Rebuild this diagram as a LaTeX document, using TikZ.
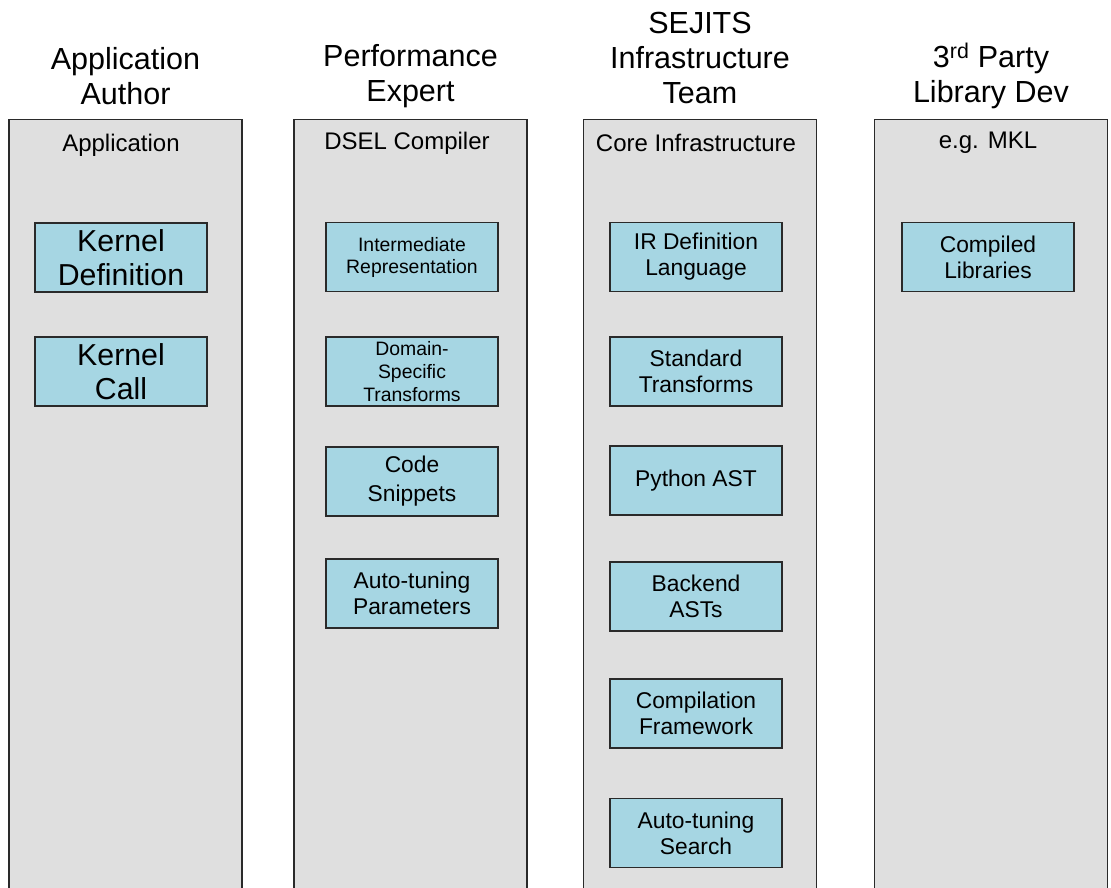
\documentclass[tikz,border=0pt]{standalone}
\usepackage{fontspec}
\setmainfont{Liberation Sans}
\definecolor{colfill}{HTML}{DFDFDF}
\definecolor{boxfill}{HTML}{A6D6E3}
\definecolor{edge}{HTML}{2A2A2A}
\begin{document}
\begin{tikzpicture}[x=1pt,y=-1pt,
  colbox/.style={draw=edge, fill=colfill, line width=1.1pt, minimum width=233pt, minimum height=770pt, anchor=north, inner sep=0pt},
  bluebox/.style={draw=edge, fill=boxfill, line width=1.1pt, minimum width=172pt, minimum height=69pt, inner sep=0pt, align=center, font=\fontsize{22.8}{26}\selectfont},
  bigbox/.style={bluebox, font=\fontsize{30.3}{34}\selectfont},
  smallbox/.style={bluebox, font=\fontsize{19.4}{22}\selectfont},
  title/.style={align=center, inner sep=0pt, font=\fontsize{30.5}{35}\selectfont},
  sub/.style={inner sep=0pt, font=\fontsize{24}{28}\selectfont}]
\useasboundingbox (0,0) rectangle (1111,888);
% columns
\node[colbox] (c1) at (125.5,119) {};
\node[colbox] (c2) at (410.5,119) {};
\node[colbox] (c3) at (700,119) {};
\node[colbox] (c4) at (991,119) {};
% titles
\node[title] (t1) at (125.5,76) {Application\\Author};
\node[title] (t2) at (410.5,76) {Performance\\Expert};
\node[title] (t3) at (700,58) {SEJITS\\Infrastructure\\Team};
\node[title] (t4) at (991,76) {3\textsuperscript{rd} Party\\Library Dev};
% column labels
\node[sub] (s1) at (121,145) {Application};
\node[sub] (s2) at (407,143) {DSEL Compiler};
\node[sub] (s3) at (696,143) {Core Infrastructure};
\node[sub] (s4) at (988,143) {e.g. MKL};
% column 1
\node[bigbox] (kd) at (121,257.5) {Kernel\\Definition};
\node[bigbox] (kc) at (121,371.5) {Kernel\\Call};
% column 2
\node[smallbox] (ir) at (412,257) {Intermediate\\Representation};
\node[smallbox, font=\fontsize{19.4}{23}\selectfont] (dst) at (412,371.5) {Domain-\\Specific\\Transforms};
\node[bluebox, font=\fontsize{22.8}{29}\selectfont] (cs) at (412,481.5) {Code\\Snippets};
\node[bluebox] (atp) at (412,593.5) {Auto-tuning\\Parameters};
% column 3
\node[bluebox] (irdl) at (696,257) {IR Definition\\Language};
\node[bluebox] (st) at (696,371.5) {Standard\\Transforms};
\node[bluebox] (past) at (696,480.5) {Python AST};
\node[bluebox] (bast) at (696,596.5) {Backend\\ASTs};
\node[bluebox] (cf) at (696,713.5) {Compilation\\Framework};
\node[bluebox] (ats) at (696,833) {Auto-tuning\\Search};
% column 4
\node[bluebox] (cl) at (988,257) {Compiled\\Libraries};
\end{tikzpicture}
\end{document}
